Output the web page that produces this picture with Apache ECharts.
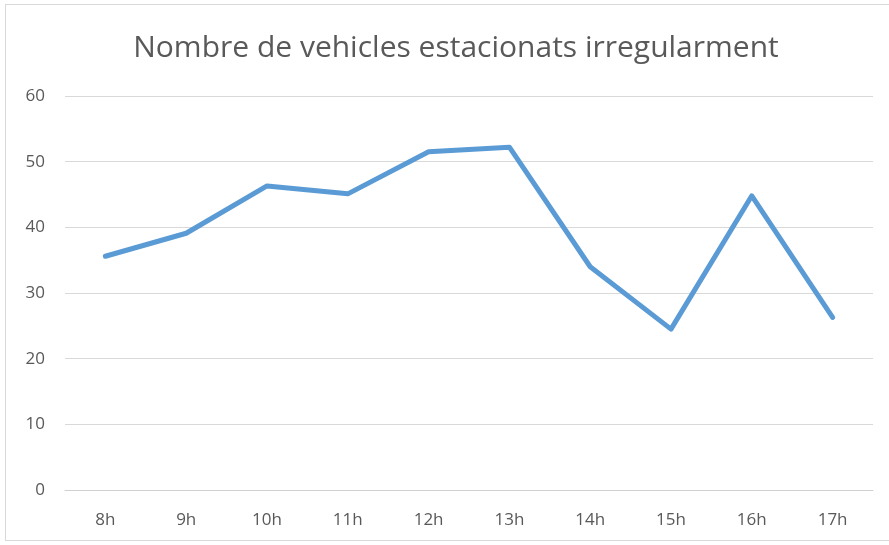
<!DOCTYPE html>
<html>
<head>
<meta charset="utf-8">
<script src="https://cdn.jsdelivr.net/npm/echarts@6/dist/echarts.min.js"></script>
<style>
html,body{margin:0;padding:0;background:#fff;}
#frame{position:absolute;left:5px;top:4px;width:900px;height:537px;border:1px solid #d9d9d9;box-sizing:border-box;}
#chart{position:absolute;left:0;top:0;width:889px;height:545px;}
</style>
</head>
<body>
<div id="frame"></div>
<div id="chart"></div>
<script>
const categories = ['8h','9h','10h','11h','12h','13h','14h','15h','16h','17h'];
const values = [35.6, 39.1, 46.3, 45.1, 51.5, 52.2, 34.0, 24.5, 44.8, 26.3];
const yTicks = {min: 0, max: 60, interval: 10};
const titleText = 'Nombre de vehicles estacionats irregularment';

const chart = echarts.init(document.getElementById('chart'), null, {renderer: 'canvas'});
chart.setOption({
  animation: false,
  backgroundColor: 'transparent',
  title: {
    text: titleText,
    left: 451, top: 28, textAlign: 'center',
    textStyle: {fontFamily: 'Open Sans', fontSize: 30, fontWeight: 'normal', color: '#595959'}
  },
  grid: {left: 65, right: 16, top: 96, bottom: 55, containLabel: false},
  xAxis: {
    type: 'category',
    data: categories,
    boundaryGap: true,
    axisLine: {show: true, lineStyle: {color: '#d0d0d0', width: 1}},
    axisTick: {show: false},
    axisLabel: {color: '#595959', fontSize: 17, fontFamily: 'Open Sans', margin: 22}
  },
  yAxis: {
    type: 'value',
    min: yTicks.min, max: yTicks.max, interval: yTicks.interval,
    axisLine: {show: false},
    axisTick: {show: false},
    axisLabel: {color: '#595959', fontSize: 17, fontFamily: 'Open Sans', margin: 20},
    splitLine: {lineStyle: {color: '#d9d9d9', width: 1}}
  },
  series: [{
    type: 'line',
    data: values,
    symbol: 'none',
    lineStyle: {color: '#5B9BD5', width: 5, cap: 'round', join: 'round'}
  }]
});
</script>
</body>
</html>
